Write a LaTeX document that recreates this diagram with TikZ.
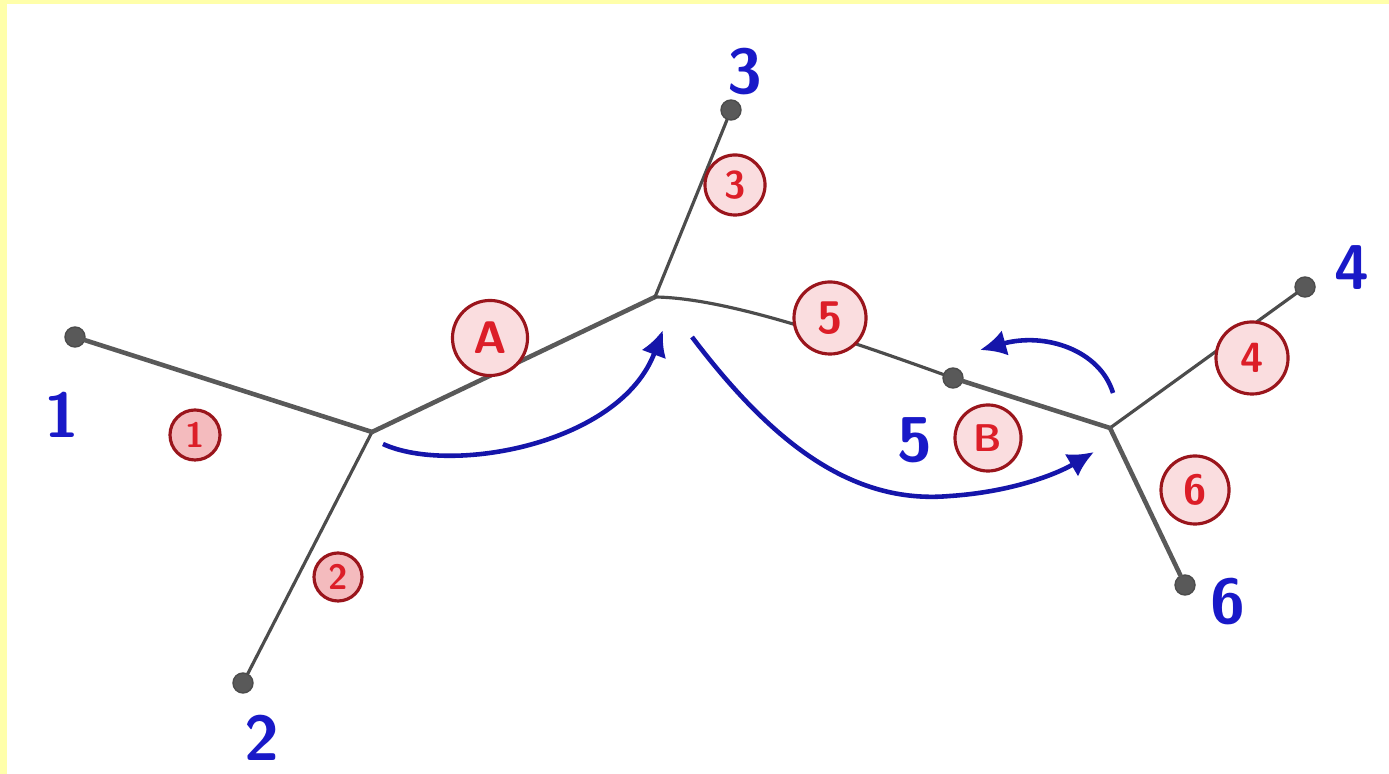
\documentclass[tikz,border=0pt]{standalone}
\usepackage{xcolor}
\usepackage{tikz}
\usetikzlibrary{arrows.meta}

\definecolor{pencilblue}{RGB}{25,25,200}
\definecolor{markerred}{RGB}{220,30,40}
\definecolor{paperyellow}{RGB}{255,255,170}

\begin{document}
\begin{tikzpicture}[
        x=0.01cm, y=-0.01cm,
        every node/.style={font=\sffamily},
        leaf/.style={circle, draw=gray!60!black, fill=gray!70!black, inner sep=0pt, minimum size=0.2cm},
        branch/.style={line width=1.3pt, draw=gray!70!black, line cap=round},
        thinbranch/.style={branch, line width=0.9pt, draw=gray!60!black},
        taxon/.style={text=pencilblue, font=\sffamily\bfseries\fontsize{18}{18}\selectfont},
        edgelabel/.style={circle, draw=markerred!70!black, fill=markerred!15, line width=0.9pt, text=markerred, font=\sffamily\bfseries\fontsize{#1}{#1}\selectfont, inner sep=1pt},
        edgelabel/.default=11,
        move/.style={-{Latex[length=2.6mm,width=2.6mm]}, draw=pencilblue!85!black, line width=1.3pt}
    ]

    % paper -----------------------------------------------
    \fill[paperyellow] (0,0) rectangle (1389,774);
    \fill[white] (7,4) rectangle (1389,774);
    \useasboundingbox (0,0) rectangle (1389,774);

    % Nodes -----------------------------------------------
    \coordinate (jl) at (372,432);
    \coordinate (jc) at (655,297);
    \coordinate (jr) at (1110,428);
    \node[leaf] (l1) at (75,337)   {};
    \node[leaf] (l2) at (243,683)  {};
    \node[leaf] (l3) at (731,110)  {};
    \node[leaf] (l4) at (1305,287) {};
    \node[leaf] (l5) at (953,378)  {};
    \node[leaf] (l6) at (1185,585) {};

    % branches
    \draw[branch] (l1) -- (jl);
    \draw[thinbranch] (l2) -- (jl);
    \draw[branch] (jl) -- (jc);
    \draw[thinbranch] (jc) -- (l3);
    \draw[thinbranch] (jc) .. controls (720,298) and (820,330) .. (l5);
    \draw[branch] (l5) -- (jr);
    \draw[thinbranch] (jr) -- (l4);
    \draw[branch] (jr) -- (l6);

    % taxon numbers
    \node[taxon] (t1) at (62,415)   {1};
    \node[taxon] (t2) at (262,738)  {2};
    \node[taxon] (t3) at (745,72)   {3};
    \node[taxon] (t4) at (1352,268) {4};
    \node[taxon] (t5) at (915,440)  {5};
    \node[taxon] (t6) at (1228,602) {6};

    % branch numbers
    \node[edgelabel=10, minimum size=0.5cm, fill=markerred!30] (e1) at (195,435) {1};
    \node[edgelabel=10, minimum size=0.48cm, fill=markerred!30] (e2) at (338,577) {2};
    \node[edgelabel, minimum size=0.6cm] (e3) at (735,185) {3};
    \node[edgelabel=13, minimum size=0.75cm] (ea) at (490,338) {A};
    \node[edgelabel=13, minimum size=0.72cm] (e5) at (830,318) {5};
    \node[edgelabel, minimum size=0.66cm] (eb) at (988,438) {B};
    \node[edgelabel=12, minimum size=0.72cm] (e4) at (1252,358) {4};
    \node[edgelabel=12, minimum size=0.68cm] (e6) at (1195,490) {6};

    % moves
    \coordinate (m1s) at (383,444);
    \coordinate (m1e) at (663,330);
    \coordinate (m2s) at (692,337);
    \coordinate (m2e) at (1094,452);
    \coordinate (m3s) at (1113,393);
    \coordinate (m3e) at (980,350);
    \draw[move] (m1s) .. controls (450,475) and (620,445) .. (m1e);
    \draw[move] (m2s) .. controls (770,440) and (850,505) .. (950,496)
                      .. controls (1010,492) and (1055,475) .. (m2e);
    \draw[move] (m3s) .. controls (1100,350) and (1045,332) .. (m3e);
\end{tikzpicture}
\end{document}
